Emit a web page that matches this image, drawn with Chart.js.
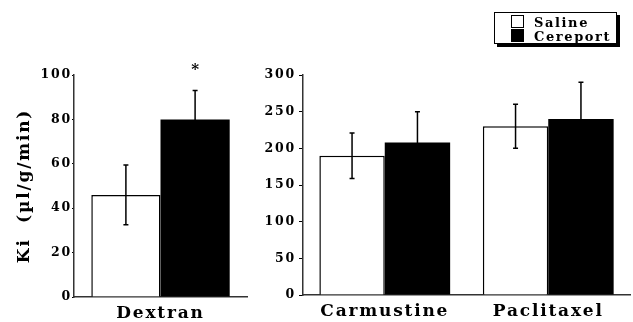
<!DOCTYPE html>
<html>
<head>
<meta charset="utf-8">
<script src="https://cdn.jsdelivr.net/npm/chart.js@4.4.1/dist/chart.umd.min.js"></script>
<style>
  html, body { margin: 0; padding: 0; background: #fff; }
  #wrap { position: relative; width: 633px; height: 322px; overflow: hidden; background: #fff; }
  #c1 { position: absolute; left: 0; top: 0; }
  #c2 { position: absolute; left: 260px; top: 0; }
  #legend {
    position: absolute; left: 494px; top: 12px; width: 121px; height: 30px;
    border: 1px solid #000; box-shadow: 3px 3px 0 #000; background: #fff;
    font-family: "DejaVu Serif", serif; font-weight: bold; font-size: 13px; letter-spacing: 1.6px;
  }
  .row { position: absolute; left: 16px; height: 14px; line-height: 14px; white-space: nowrap; }
  .sw { display: inline-block; width: 11px; height: 11px; border: 1px solid #000; vertical-align: -1px; margin-right: 10px; }
</style>
</head>
<body>
<div id="wrap">
  <canvas id="c1" width="260" height="322"></canvas>
  <canvas id="c2" width="373" height="322"></canvas>
  <div id="legend">
    <div class="row" style="top:2px"><span class="sw" style="background:#fff"></span><span id="lg0"></span></div>
    <div class="row" style="top:16px"><span class="sw" style="background:#000"></span><span id="lg1"></span></div>
  </div>
</div>
<script>
// ---- data ----
const seriesNames = ['Saline', 'Cereport'];
const dextranCategories = ['Dextran'];
const dextranSaline = [46];
const dextranSalineErr = [13.5];
const dextranCereport = [80];
const dextranCereportErr = [13];
const dextranCereportMarks = ['*'];
const drugCategories = ['Carmustine', 'Paclitaxel'];
const drugSaline = [190, 230];
const drugSalineErr = [31, 30];
const drugCereport = [208, 240];
const drugCereportErr = [42, 50];
const drugCereportMarks = ['', ''];
const leftTicks = [0, 20, 40, 60, 80, 100];
const rightTicks = [0, 50, 100, 150, 200, 250, 300];
const yTitle = 'Ki  (µl/g/min)';

document.getElementById('lg0').textContent = seriesNames[0];
document.getElementById('lg1').textContent = seriesNames[1];

const FONT = '"DejaVu Serif", serif';

const spacingPlugin = {
  id: 'spacing',
  beforeLayout(chart) { chart.ctx.letterSpacing = '1.8px'; },
  beforeDraw(chart) { chart.ctx.letterSpacing = '1.8px'; }
};

const errPlugin = {
  id: 'errbars',
  afterDatasetsDraw(chart) {
    const ctx = chart.ctx;
    const y = chart.scales.y;
    ctx.save();
    ctx.strokeStyle = '#000';
    ctx.lineWidth = 1.5;
    chart.data.datasets.forEach((ds, di) => {
      const meta = chart.getDatasetMeta(di);
      meta.data.forEach((bar, i) => {
        const v = ds.data[i], e = ds.errors[i];
        const x = bar.x;
        const yh = y.getPixelForValue(v + e), yl = y.getPixelForValue(v - e);
        ctx.beginPath();
        ctx.moveTo(x, yl); ctx.lineTo(x, yh);
        ctx.moveTo(x - 2.5, yh); ctx.lineTo(x + 2.5, yh);
        ctx.moveTo(x - 2.5, yl); ctx.lineTo(x + 2.5, yl);
        ctx.stroke();
        if (ds.marks && ds.marks[i]) {
          ctx.fillStyle = '#000';
          ctx.font = 'bold 15px ' + FONT;
          ctx.textAlign = 'center';
          ctx.textBaseline = 'middle';
          ctx.letterSpacing = '0px';
          ctx.fillText(ds.marks[i], x, yh - 20);
        }
      });
    });
    ctx.restore();
  }
};

function makeChart(id, cats, sal, salE, cer, cerE, marks, ticks, yw, xh, padR, withTitle, tickPad, tickLen) {
  const max = ticks[ticks.length - 1];
  const step = ticks[1] - ticks[0];
  return new Chart(document.getElementById(id), {
    type: 'bar',
    data: {
      labels: cats,
      datasets: [
        { label: seriesNames[0], data: sal, errors: salE, backgroundColor: '#fff', borderColor: '#000', borderWidth: 1.5, borderSkipped: 'start', categoryPercentage: 0.8, barPercentage: 1.0 },
        { label: seriesNames[1], data: cer, errors: cerE, marks: marks, backgroundColor: '#000', borderColor: '#000', borderWidth: 0, categoryPercentage: 0.8, barPercentage: 1.0 }
      ]
    },
    options: {
      responsive: false,
      animation: false,
      devicePixelRatio: 1,
      layout: { padding: { top: 75, right: padR, left: 0, bottom: 0 } },
      plugins: { legend: { display: false }, tooltip: { enabled: false } },
      scales: {
        x: {
          grid: { display: false },
          border: { display: true, color: '#333', width: 1.5 },
          ticks: { color: '#000', font: { family: FONT, weight: 'bold', size: 17 }, padding: -2 },
          afterFit(s) { s.height = xh; }
        },
        y: {
          min: 0, max: max,
          grid: { drawOnChartArea: false, drawTicks: true, tickLength: tickLen, color: '#000' },
          border: { display: true, color: '#333', width: 1.5 },
          ticks: { stepSize: step, color: '#000', font: { family: FONT, weight: 'bold', size: 12.5 }, padding: tickPad },
          title: { display: withTitle, text: yTitle, color: '#000', font: { family: FONT, weight: 'bold', size: 17 }, padding: { top: 14, bottom: 0 } },
          afterFit(s) { s.width = yw; }
        }
      }
    },
    plugins: [spacingPlugin, errPlugin]
  });
}

makeChart('c1', dextranCategories, dextranSaline, dextranSalineErr, dextranCereport, dextranCereportErr, dextranCereportMarks, leftTicks, 74, 25, 13, true, 0, 2);
makeChart('c2', drugCategories, drugSaline, drugSalineErr, drugCereport, drugCereportErr, drugCereportMarks, rightTicks, 43, 27, 3, false, 3, 4);
</script>
</body>
</html>
